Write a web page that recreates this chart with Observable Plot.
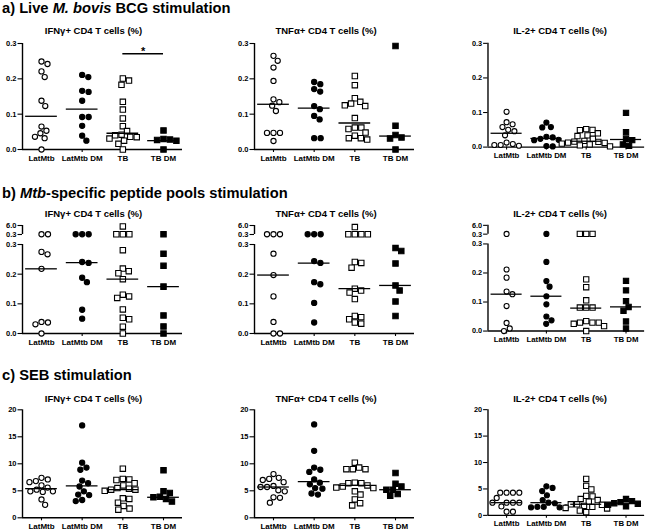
<!DOCTYPE html>
<html><head><meta charset="utf-8">
<script src="https://cdn.jsdelivr.net/npm/d3@7"></script>
<script src="https://cdn.jsdelivr.net/npm/@observablehq/plot@0.6"></script>
<style>
html,body{margin:0;padding:0;overflow:hidden;background:#fff}
#root{position:relative;width:650px;height:530px;overflow:hidden;background:#fff;font-family:"Liberation Sans",Arial,sans-serif;color:#000}
.sec{position:absolute;left:2px;font-weight:bold;font-size:14.7px;line-height:1;white-space:nowrap}
.ptitle{position:absolute;font-weight:bold;font-size:9.5px;line-height:1;white-space:nowrap;transform:translateX(-50%)}
.panel{position:absolute}
</style></head>
<body><div id="root"></div>
<script>
// ---------- categories & titles ----------
const groups = ["LatMtb", "LatMtb DM", "TB", "TB DM"];
const panelTitles = ["IFNγ+ CD4 T cells (%)", "TNFα+ CD4 T cells (%)", "IL-2+ CD4 T cells (%)"];
const sectionTitles = [
  ["a) Live ", ["M. bovis"], " BCG stimulation"],
  ["b) ", ["Mtb"], "-specific peptide pools stimulation"],
  ["c) SEB stimulation"]
];

// ---------- a) Live M. bovis BCG stimulation ----------
const bcgIFN = [
  [0.249, 0.242, 0.221, 0.205, 0.138, 0.123, 0.065, 0.053, 0.046, 0.036, 0.032, 0.0],
  [0.211, 0.205, 0.166, 0.163, 0.138, 0.092, 0.092, 0.067, 0.039, 0.025],
  [0.201, 0.195, 0.183, 0.135, 0.113, 0.088, 0.066, 0.052, 0.042, 0.040, 0.036, 0.035, 0.031, 0.025, 0.016, 0.0],
  [0.054, 0.030, 0.028, 0.027, 0.025, 0.0]
];
const bcgIFNMedian = [0.094, 0.114, 0.046, 0.025];
const bcgTNF = [
  [0.265, 0.251, 0.232, 0.194, 0.142, 0.134, 0.124, 0.109, 0.047, 0.047, 0.047, 0.024],
  [0.191, 0.185, 0.171, 0.164, 0.123, 0.114, 0.095, 0.085, 0.032, 0.032],
  [0.208, 0.182, 0.145, 0.135, 0.130, 0.125, 0.123, 0.089, 0.062, 0.062, 0.058, 0.048, 0.039, 0.032, 0.032, 0.028],
  [0.293, 0.067, 0.041, 0.034, 0.031, 0.0]
];
const bcgTNFMedian = [0.128, 0.117, 0.075, 0.038];
const bcgIL2 = [
  [0.102, 0.072, 0.066, 0.058, 0.050, 0.046, 0.034, 0.013, 0.009, 0.006, 0.006, 0.004],
  [0.071, 0.058, 0.057, 0.030, 0.028, 0.024, 0.021, 0.020, 0.003, 0.002],
  [0.052, 0.050, 0.049, 0.040, 0.034, 0.032, 0.024, 0.018, 0.016, 0.015, 0.013, 0.012, 0.010, 0.008, 0.005, 0.002],
  [0.099, 0.043, 0.024, 0.020, 0.008, 0.004]
];
const bcgIL2Median = [0.040, 0.025, 0.017, 0.022];
const bcgSignificance = [{from: 2, to: 3, y: 0.271, label: "*"}];

// ---------- b) Mtb-specific peptide pools (broken axis 0–0.3 | 0.3–6.0) ----------
const pepIFN = [
  [0.45, 0.45, 0.275, 0.267, 0.218, 0.039, 0.037, 0.031, 0.0],
  [0.45, 0.45, 0.45, 0.241, 0.238, 0.188, 0.173, 0.080, 0.050],
  [5.4, 0.45, 0.45, 0.45, 0.281, 0.219, 0.210, 0.203, 0.183, 0.131, 0.125, 0.120, 0.081, 0.053, 0.048, 0.023, 0.0],
  [0.45, 0.269, 0.228, 0.158, 0.061, 0.024, 0.0]
];
const pepIFNMedian = [0.218, 0.239, 0.183, 0.158];
const pepTNF = [
  [0.45, 0.45, 0.45, 0.269, 0.197, 0.125, 0.039, 0.0, 0.0],
  [0.45, 0.45, 0.45, 0.244, 0.238, 0.173, 0.166, 0.103, 0.037],
  [5.0, 0.45, 0.45, 0.45, 0.45, 0.241, 0.238, 0.222, 0.151, 0.145, 0.138, 0.116, 0.059, 0.055, 0.048, 0.037, 0.033],
  [0.288, 0.278, 0.236, 0.162, 0.145, 0.108, 0.059]
];
const pepTNFMedian = [0.197, 0.237, 0.151, 0.162];
const pepIL2 = [
  [0.45, 0.212, 0.184, 0.136, 0.127, 0.086, 0.028, 0.009, 0.0],
  [0.45, 0.238, 0.172, 0.153, 0.120, 0.092, 0.050, 0.037, 0.025],
  [0.45, 0.45, 0.45, 0.178, 0.151, 0.106, 0.081, 0.081, 0.081, 0.034, 0.029, 0.029, 0.029, 0.025, 0.017, 0.0],
  [0.173, 0.140, 0.103, 0.083, 0.070, 0.033, 0.009]
];
const pepIL2Median = [0.127, 0.120, 0.079, 0.083];

// ---------- c) SEB stimulation ----------
const sebIFN = [
  [7.4, 7.1, 6.8, 6.6, 6.0, 5.6, 5.2, 4.9, 4.9, 4.8, 3.4, 2.4],
  [17.1, 10.2, 9.3, 8.9, 6.9, 6.4, 5.8, 4.9, 4.3, 4.2, 3.3, 3.1],
  [9.1, 7.2, 7.1, 7.0, 6.4, 6.0, 5.5, 5.4, 5.2, 5.2, 5.0, 3.6, 3.5, 2.8, 2.2, 1.7, 1.5],
  [8.8, 4.9, 4.6, 3.9, 3.8, 3.5, 3.0]
];
const sebIFNMedian = [5.4, 5.9, 5.2, 3.8];
const sebTNF = [
  [8.1, 7.4, 7.2, 7.0, 6.6, 5.9, 5.7, 5.7, 5.1, 4.9, 3.8, 3.7, 2.8],
  [17.3, 12.4, 9.3, 8.9, 8.5, 7.1, 6.5, 6.2, 5.5, 5.4, 4.5, 4.3],
  [10.2, 9.3, 9.0, 9.0, 9.0, 6.5, 6.4, 6.4, 6.0, 5.8, 5.6, 5.5, 4.9, 4.3, 3.4, 2.7, 2.3],
  [8.3, 6.3, 5.8, 5.2, 5.2, 4.4, 4.1]
];
const sebTNFMedian = [5.7, 6.7, 6.0, 5.2];
const sebIL2 = [
  [4.3, 4.3, 4.3, 4.3, 3.3, 2.4, 2.4, 2.4, 2.4, 1.7, 0.7, 0.7],
  [5.5, 5.2, 4.6, 3.8, 2.9, 2.4, 2.3, 1.6, 1.6, 1.5, 1.5, 1.5],
  [6.9, 5.6, 4.9, 3.7, 3.6, 3.1, 2.9, 2.6, 2.1, 2.1, 2.0, 1.8, 1.6, 1.4, 1.3, 0.9, 0.6],
  [3.1, 2.7, 2.5, 2.3, 2.2, 2.0, 1.7]
];
const sebIL2Median = [2.4, 2.4, 2.1, 2.3];

// ---------- axis tick values ----------
const ticksA = [0, 0.1, 0.2, 0.3];
const ticksB = [0, 0.1, 0.2, 0.3, 0.3000001, 6];
const ticksC = [0, 5, 10, 15, 20];

// ---------- layout (positions / styles only) ----------
const rows = [
  {secTop: 0.6, titleTop: 26.3, svgTop: 36, height: 131, yDomain: [0, 0.3], yRange: [113, 7],
   ticks: ticksA, fmt: ".1f", segs: [[0, 0.3]],
   panels: [[bcgIFN, bcgIFNMedian, bcgSignificance], [bcgTNF, bcgTNFMedian, []], [bcgIL2, bcgIL2Median, []]]},
  {secTop: 185.6, titleTop: 208.7, svgTop: 218, height: 133, yDomain: [0, 0.3, 0.3000001, 6], yRange: [115, 26, 16, 7],
   ticks: ticksB, fmt: ".1f", segs: [[0, 0.3], [0.3000001, 6]],
   panels: [[pepIFN, pepIFNMedian, []], [pepTNF, pepTNFMedian, []], [pepIL2, pepIL2Median, []]]},
  {secTop: 368.3, titleTop: 393.7, svgTop: 403, height: 132.3, yDomain: [0, 20], yRange: [114.3, 6.3],
   ticks: ticksC, fmt: "d", segs: [[0, 20]],
   panels: [[sebIFN, sebIFNMedian, []], [sebTNF, sebTNFMedian, []], [sebIL2, sebIL2Median, []]]}
];
const axisXs = [21.5, 254, 488];
const ML = 24, MR = 6, PW = 160;
const xDomain = [-0.467, 3.467];
const D = 6.5; // marker spacing (px)
const markerStyles = [
  {symbol: "circle", fill: "white", r: 2.6},
  {symbol: "circle", fill: "black", r: 2.6},
  {symbol: "square", fill: "white", r: 3.05},
  {symbol: "square", fill: "black", r: 3.05}
];

// beeswarm-style horizontal spreading (like GraphPad scatter dot plots)
function swarm(py, d) {
  const idx = d3.range(py.length).sort((a, b) => py[a] - py[b]);
  const placed = [], out = new Array(py.length);
  for (const i of idx) {
    const y = py[i], blocks = [];
    for (const p of placed) {
      const dy = Math.abs(p.y - y);
      if (dy < d) { const w = Math.sqrt(d * d - dy * dy); blocks.push([p.x - w, p.x + w]); }
    }
    const cands = [0];
    blocks.forEach(b => cands.push(b[0], b[1]));
    cands.sort((a, b) => Math.abs(a) - Math.abs(b) || b - a);
    let x = 0;
    for (const c of cands) {
      if (blocks.every(b => c <= b[0] + 1e-6 || c >= b[1] - 1e-6)) { x = c; break; }
    }
    placed.push({x, y});
    out[i] = x;
  }
  return out;
}

const root = document.getElementById("root");
const font = "'Liberation Sans', Arial, sans-serif";

rows.forEach((row, ri) => {
  const sec = document.createElement("div");
  sec.className = "sec";
  sec.style.top = row.secTop + "px";
  sectionTitles[ri].forEach(part => {
    if (Array.isArray(part)) { const it = document.createElement("i"); it.textContent = part[0]; sec.appendChild(it); }
    else sec.appendChild(document.createTextNode(part));
  });
  root.appendChild(sec);

  row.panels.forEach(([values, medians, sig], pi) => {
    const ax = axisXs[pi];
    const t = document.createElement("div");
    t.className = "ptitle";
    t.style.left = (ax + 72) + "px";
    t.style.top = row.titleTop + "px";
    t.textContent = panelTitles[pi];
    root.appendChild(t);

    const yOpts = {type: "linear", domain: row.yDomain, range: row.yRange};
    const ys = Plot.scale({y: yOpts});
    const xs = Plot.scale({x: {type: "linear", domain: xDomain, range: [ML, ML + PW]}});
    const pxPerUnit = xs.apply(1) - xs.apply(0);

    const pts = [];
    values.forEach((vals, gi) => {
      const offs = swarm(vals.map(v => ys.apply(v)), D);
      vals.forEach((v, k) => pts.push({g: gi, v, x: gi + offs[k] / pxPerUnit}));
    });
    const med = medians.map((m, i) => ({i, m}));

    const marks = [
      Plot.ruleY([0], {stroke: "black", strokeWidth: 1.4}),
      Plot.ruleX(row.segs, {x: xDomain[0], y1: d => d[0], y2: d => d[1], stroke: "black", strokeWidth: 1.4}),
      Plot.axisY({ticks: row.ticks, tickFormat: d3.format(row.fmt), tickSize: 4.5, tickPadding: 1.5, fontSize: 7.5, strokeWidth: 1.1}),
      Plot.axisX({ticks: [0, 1, 2, 3], tickFormat: i => groups[i], tickSize: 3, tickPadding: 2.5, fontSize: 8, strokeWidth: 1.1}),
      ...markerStyles.map((st, gi) => Plot.dot(pts.filter(p => p.g === gi), {
        x: "x", y: "v", symbol: st.symbol, r: st.r, fill: st.fill, stroke: "black", strokeWidth: 1.1
      })),
      Plot.ruleY(med, {x1: d => d.i - 0.39, x2: d => d.i + 0.39, y: "m", stroke: "black", strokeWidth: 1.3})
    ];
    if (sig.length) {
      marks.push(Plot.ruleY(sig, {x1: "from", x2: "to", y: "y", stroke: "black", strokeWidth: 1.5}));
      marks.push(Plot.text(sig, {x: d => (d.from + d.to) / 2, y: "y", text: "label", dy: -2, fontSize: 11}));
    }

    const svg = Plot.plot({
      width: ML + PW + MR,
      height: row.height,
      marginLeft: ML, marginRight: MR,
      marginTop: row.yRange[row.yRange.length - 1],
      marginBottom: row.height - row.yRange[0],
      x: {type: "linear", domain: xDomain, range: [ML, ML + PW], label: null},
      y: {...yOpts, label: null},
      style: {fontFamily: font, fontWeight: "bold", background: "transparent", color: "black", overflow: "visible"},
      marks
    });
    const wrap = document.createElement("div");
    wrap.className = "panel";
    wrap.style.left = (ax - ML) + "px";
    wrap.style.top = row.svgTop + "px";
    wrap.appendChild(svg);
    root.appendChild(wrap);
  });
});
</script>
</body></html>
